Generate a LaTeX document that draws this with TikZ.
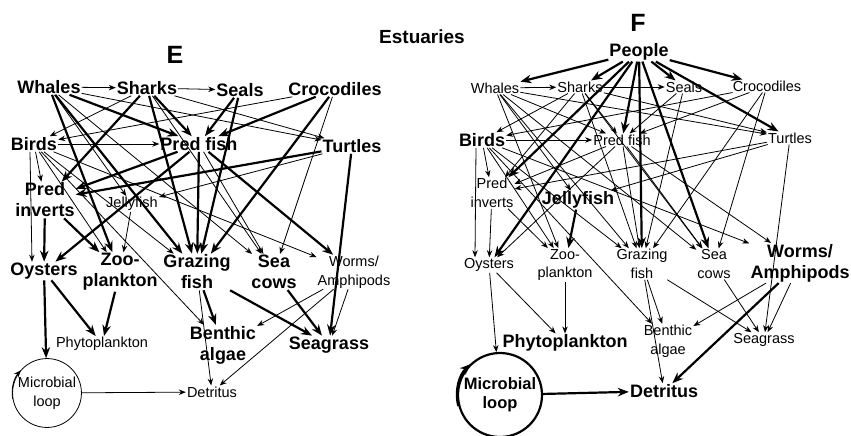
\documentclass[tikz,border=0pt]{standalone}
\usepackage{fontspec}
\setmainfont{Liberation Sans}
\usepackage{tikz}
\usetikzlibrary{arrows.meta, positioning}
\tikzset{
  bigname/.style={font=\fontsize{18}{21}\selectfont\bfseries, align=center, inner sep=1pt},
  smallname/.style={font=\fontsize{14.5}{18.5}\selectfont, align=center, inner sep=1pt},
  panel/.style={font=\fontsize{25}{25}\selectfont\bfseries},
  loopnode/.style={circle, draw, inner sep=0pt, align=center},
  arrow/.style={-{Stealth[length=7pt,width=5.5pt]}, line width=0.8pt},
  thickarrow/.style={-{Stealth[length=11pt,width=8.5pt]}, line width=2.2pt}
}

\begin{document}
\begin{tikzpicture}[x=1pt, y=1pt]
        \useasboundingbox (0,0) rectangle (851,-436);
        \node (title) [font=\fontsize{19}{19}\selectfont\bfseries] at (422,-37) {Estuaries};

        % E: estuary food web
        \node (labelE) [panel] at (175,-55) {E};
        \node (whales1) [bigname] at (49,-87) {Whales};
        \node (sharks1) [bigname] at (147,-88) {Sharks};
        \node (seals1) [bigname] at (240,-90) {Seals};
        \node (crocs1) [bigname] at (335,-89) {Crocodiles};
        \node (birds1) [bigname] at (34,-144) {Birds};
        \node (predfish1) [bigname] at (199,-144) {Pred fish};
        \node (turtles1) [bigname] at (352,-146) {Turtles};
        \node (predinv1) [bigname] at (45,-200) {Pred\\inverts};
        \node (jelly1) [smallname] at (132,-204) {Jellyfish};
        \node (oysters1) [bigname] at (44,-271) {Oysters};
        \node (zoo1) [bigname] at (120,-272) {Zoo-\\plankton};
        \node (grazing1) [bigname] at (197,-272) {Grazing\\fish};
        \node (seacows1) [bigname] at (274,-272) {Sea\\cows};
        \node (worms1) [smallname] at (354,-272) {Worms/\\Amphipods};
        \node (phyto1) [smallname] at (102,-344) {Phytoplankton};
        \node (benthic1) [bigname] at (223,-345) {Benthic\\algae};
        \node (seagrass1) [bigname] at (329,-345) {Seagrass};
        \node (detritus1) [smallname] at (212,-392) {Detritus};
        \node (loop1) [loopnode, smallname, minimum size=68pt, line width=0.8pt] at (47,-393) {Microbial\\loop};

        \draw [arrow] (whales1) -- (sharks1);
        \draw [arrow] (sharks1) -- (seals1);
        \draw [arrow] (birds1) -- (predfish1);
        \draw [thickarrow] (whales1) -- (predfish1);
        \draw [thickarrow] (whales1) -- (zoo1);
        \draw [thickarrow] (whales1) -- (grazing1);
        \draw [arrow] (whales1) -- (jelly1);
        \draw [arrow] (whales1) -- (turtles1);
        \draw [arrow] (whales1) -- (seacows1);
        \draw [thickarrow] (sharks1) -- (predinv1);
        \draw [thickarrow] (sharks1) -- (predfish1);
        \draw [thickarrow] (sharks1) -- (grazing1);
        \draw [arrow] (sharks1) -- (birds1);
        \draw [arrow] (sharks1) -- (turtles1);
        \draw [arrow] (sharks1) -- (seacows1);
        \draw [thickarrow] (seals1) -- (predfish1);
        \draw [thickarrow] (seals1) -- (grazing1);
        \draw [thickarrow] (crocs1) -- (predfish1);
        \draw [arrow] (crocs1) -- (birds1);
        \draw [thickarrow] (crocs1) -- (grazing1);
        \draw [arrow] (crocs1) -- (seacows1);
        \draw [arrow] (birds1) -- (predinv1);
        \draw [arrow] ([xshift=-4pt]birds1.south) -- ([xshift=-12pt]oysters1.north);
        \draw [arrow] (birds1) -- (zoo1);
        \draw [arrow] (birds1) -- (grazing1);
        \draw [arrow] (birds1) -- (benthic1);
        \draw [arrow] (birds1) -- (worms1);
        \draw [thickarrow] (predfish1) -- (predinv1);
        \draw [thickarrow] (predfish1) -- (oysters1);
        \draw [thickarrow] (predfish1) -- (grazing1);
        \draw [thickarrow] (predfish1) -- (worms1);
        \draw [arrow] (predfish1) -- (seacows1);
        \draw [thickarrow] (turtles1) -- (predinv1);
        \draw [arrow] (turtles1) -- (jelly1);
        \draw [thickarrow] (turtles1) -- (seagrass1);
        \draw [thickarrow] (predinv1) -- (oysters1);
        \draw [thickarrow] (predinv1) -- (zoo1);
        \draw [arrow] (jelly1) -- (zoo1);
        \draw [thickarrow] (oysters1) -- (phyto1);
        \draw [thickarrow] (oysters1) -- (loop1);
        \draw [thickarrow] (zoo1) -- (phyto1);
        \draw [thickarrow] (grazing1) -- (benthic1);
        \draw [thickarrow] (grazing1) -- (seagrass1);
        \draw [arrow] (grazing1) -- (detritus1);
        \draw [thickarrow] (seacows1) -- (seagrass1);
        \draw [arrow] (worms1) -- (benthic1);
        \draw [arrow] (worms1) -- (seagrass1);
        \draw [arrow] (worms1) -- (detritus1);
        \draw [arrow] (loop1) -- (detritus1);
        % arrow on the microbial loop itself
        \draw [arrow] (loop1.190) arc[start angle=190, end angle=138, radius=34pt];

        % F: the same web with people
        \node (labelF) [panel] at (638,-23) {F};
        \node (people2) [bigname] at (639,-52) {People};
        \node (whales2) [smallname] at (495,-88) {Whales};
        \node (sharks2) [smallname] at (580,-87) {Sharks};
        \node (seals2) [smallname] at (684,-87) {Seals};
        \node (crocs2) [smallname] at (767,-86) {Crocodiles};
        \node (birds2) [bigname] at (482,-140) {Birds};
        \node (predfish2) [smallname] at (622,-140) {Pred fish};
        \node (turtles2) [smallname] at (790,-138) {Turtles};
        \node (predinv2) [smallname] at (492,-193) {Pred\\inverts};
        \node (jelly2) [bigname] at (578,-200) {Jellyfish};
        \node (oysters2) [smallname] at (489,-265) {Oysters};
        \node (zoo2) [smallname] at (565,-265) {Zoo-\\plankton};
        \node (grazing2) [smallname] at (642,-264) {Grazing\\fish};
        \node (seacows2) [smallname] at (714,-264) {Sea\\cows};
        \node (worms2) [bigname] at (800,-263) {Worms/\\Amphipods};
        \node (phyto2) [bigname] at (565,-343) {Phytoplankton};
        \node (benthic2) [smallname] at (668,-341) {Benthic\\algae};
        \node (seagrass2) [smallname] at (764,-340) {Seagrass};
        \node (detritus2) [bigname] at (664,-391) {Detritus};
        \node (loop2) [loopnode, bigname, font=\fontsize{16.5}{19}\selectfont\bfseries, minimum size=84pt, line width=2.2pt] at (500,-395) {Microbial\\loop};

        % People eat almost everything
        \draw [thickarrow] (people2) -- (whales2);
        \draw [thickarrow] (people2) -- (sharks2);
        \draw [thickarrow] (people2) -- (seals2);
        \draw [thickarrow] (people2) -- (crocs2);
        \draw [thickarrow] (people2) -- (turtles2);
        \draw [thickarrow] (people2) -- (predfish2);
        \draw [thickarrow] (people2) -- (grazing2);
        \draw [thickarrow] (people2) -- (seacows2);
        \draw [thickarrow] (people2) -- (predinv2);
        \draw [thickarrow] (people2) -- (oysters2);

        \draw [arrow] (whales2) -- (sharks2);
        \draw [arrow] (sharks2) -- (seals2);
        \draw [arrow] (birds2) -- (predfish2);
        \draw [arrow] (whales2) -- (predfish2);
        \draw [arrow] (whales2) -- (zoo2);
        \draw [arrow] (whales2) -- (grazing2);
        \draw [arrow] (whales2) -- (jelly2);
        \draw [arrow] (whales2) -- (turtles2);
        \draw [arrow] (whales2) -- (seacows2);
        \draw [arrow] (sharks2) -- (predinv2);
        \draw [arrow] (sharks2) -- (predfish2);
        \draw [arrow] (sharks2) -- (grazing2);
        \draw [arrow] (sharks2) -- (birds2);
        \draw [arrow] (sharks2) -- (turtles2);
        \draw [arrow] (sharks2) -- (seacows2);
        \draw [arrow] (seals2) -- (predfish2);
        \draw [arrow] (seals2) -- (grazing2);
        \draw [arrow] (crocs2) -- (predfish2);
        \draw [arrow] (crocs2) -- (birds2);
        \draw [arrow] (crocs2) -- (grazing2);
        \draw [arrow] (crocs2) -- (seacows2);
        \draw [arrow] (birds2) -- (predinv2);
        \draw [arrow] ([xshift=-6pt]birds2.south) -- ([xshift=-14pt]oysters2.north);
        \draw [arrow] (birds2) -- (zoo2);
        \draw [arrow] (birds2) -- (grazing2);
        \draw [arrow] (birds2) -- (benthic2);
        \draw [arrow] (birds2) -- (worms2);
        \draw [arrow] (predfish2) -- (predinv2);
        \draw [arrow] (predfish2) -- (oysters2);
        \draw [arrow] (predfish2) -- (grazing2);
        \draw [arrow] (predfish2) -- (worms2);
        \draw [arrow] (predfish2) -- (seacows2);
        \draw [arrow] (turtles2) -- (predinv2);
        \draw [arrow] (turtles2) -- (jelly2);
        \draw [arrow] (turtles2) -- (seagrass2);
        \draw [arrow] (predinv2) -- (oysters2);
        \draw [arrow] (predinv2) -- (zoo2);
        \draw [thickarrow] (jelly2) -- (zoo2);
        \draw [arrow] (oysters2) -- (phyto2);
        \draw [arrow] (oysters2) -- (loop2);
        \draw [arrow] (zoo2) -- (phyto2);
        \draw [arrow] (grazing2) -- (benthic2);
        \draw [arrow] (grazing2) -- (seagrass2);
        \draw [arrow] (grazing2) -- (detritus2);
        \draw [arrow] (seacows2) -- (seagrass2);
        \draw [arrow] (worms2) -- (benthic2);
        \draw [arrow] (worms2) -- (seagrass2);
        \draw [thickarrow] (worms2) -- (detritus2);
        \draw [thickarrow] (loop2) -- (detritus2);
        \draw [thickarrow] (loop2.195) arc[start angle=195, end angle=132, radius=42pt];
    \end{tikzpicture}
\end{document}
